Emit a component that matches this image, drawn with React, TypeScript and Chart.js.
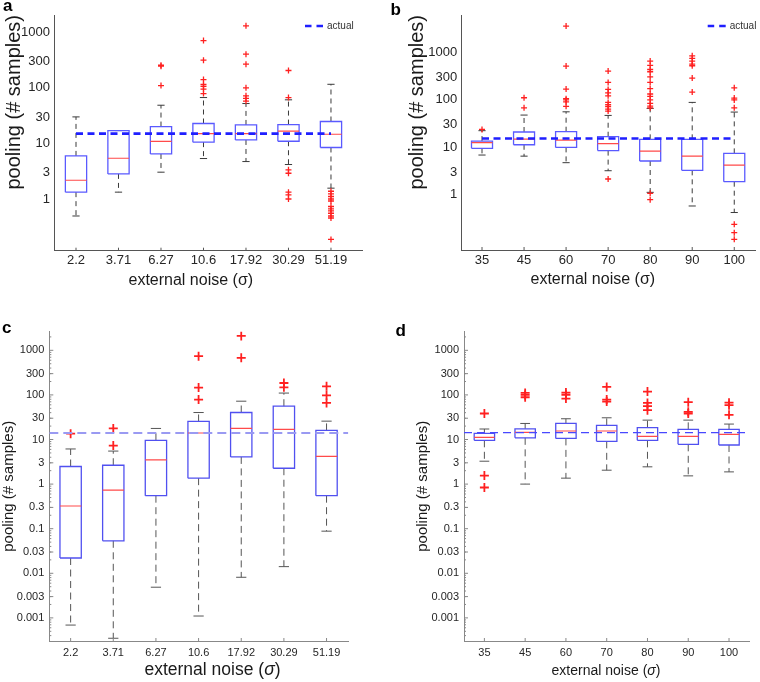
import React, { useEffect, useRef } from "react";
import { Chart, registerables } from "chart.js";

Chart.register(...registerables);

const FONT = "'Liberation Sans', Arial, Helvetica, sans-serif";

// ---------------- Panel a ----------------
const catsA = ["2.2", "3.71", "6.27", "10.6", "17.92", "30.29", "51.19"];
const loA = [0.5, 1.34, 3.06, 5.38, 4.75, 4.2, 1.58];
const q1A = [1.34, 2.85, 6.5, 10.6, 11.6, 11.0, 8.5];
const medA = [2.19, 5.45, 10.9, 15.1, 15.1, 16.7, 14.7];
const q3A = [6.0, 17.1, 20.2, 22.9, 21.6, 21.9, 24.9];
const hiA = [30.1, 17.1, 48.8, 67, 52.3, 61, 116];
const outA = [
  [],
  [],
  [255, 245, 110],
  [708, 314, 141, 115, 106, 95, 79],
  [1300, 403, 266, 100, 72, 65, 58],
  [205, 67, 3.37, 2.93, 1.34, 1.2, 1.01],
  [1.39, 1.25, 1.12, 1.01, 0.93, 0.74, 0.67, 0.62, 0.56, 0.5, 0.46, 0.19],
];
const actualA = 15.1;

// ---------------- Panel b ----------------
const catsB = ["35", "45", "60", "70", "80", "90", "100"];
const loB = [6.86, 6.5, 4.73, 3.2, 1.12, 0.577, 0.42];
const q1B = [9.5, 11.3, 9.95, 8.5, 5.13, 3.26, 1.88];
const medB = [12.5, 14.9, 14.2, 11.9, 8.33, 6.5, 4.22];
const q3B = [13.5, 21, 21.3, 16.7, 14.7, 14.7, 7.44];
const hiB = [22.4, 47.8, 56, 47, 66, 88.5, 55.3];
const outB = [
  [23.8],
  [111, 68],
  [3600, 516, 169, 106, 100, 91, 73],
  [405, 233, 166, 141, 122, 88.5, 79, 72, 64, 58, 2.14],
  [658, 533, 438, 392, 307, 233, 172, 133, 118, 100, 84, 74, 68, 1.07, 0.785],
  [852, 748, 658, 569, 525, 288, 146],
  [180, 109, 100, 68, 0.237, 0.158, 0.114],
];
const actualB = 15.3;

// ---------------- Panel c ----------------
const catsC = ["2.2", "3.71", "6.27", "10.6", "17.92", "30.29", "51.19"];
const loC = [0.00069, 0.000349, 0.00487, 0.0011, 0.00814, 0.0141, 0.088];
const q1C = [0.022, 0.0535, 0.55, 1.36, 4.07, 2.27, 0.55];
const medC = [0.323, 0.735, 3.49, 14, 17.7, 16.9, 4.2];
const q3C = [2.48, 2.65, 9.58, 25.4, 40.3, 55.8, 16];
const hiC = [6.14, 5.5, 17.7, 40.3, 72.3, 110, 25.8];
const outC = [
  [13.5],
  [17.7, 7.3],
  [],
  [741, 146, 78.7],
  [2106, 680],
  [185, 148],
  [156, 98, 66],
];
const actualC = 14;

// ---------------- Panel d ----------------
const catsD = ["35", "45", "60", "70", "80", "90", "100"];
const loD = [3.26, 1, 1.36, 2.05, 2.44, 1.53, 1.88];
const q1D = [9.6, 10.9, 10.6, 9.1, 9.6, 7.8, 7.54];
const medD = [11.2, 14.4, 15.5, 15.5, 11.8, 11.8, 13];
const q3D = [13.7, 17.4, 22.9, 20.7, 18.4, 16.9, 16.9];
const hiD = [17.2, 22.9, 29.2, 30.7, 27.2, 27.2, 22.2];
const outD = [
  [38.3, 1.55, 0.84],
  [111, 100, 88.7],
  [113, 101, 82.8],
  [151, 78.7, 71],
  [119, 66.3, 55.9, 45.5],
  [68.6, 41.8, 38.3],
  [67, 58.8, 35.8],
];
const actualD = 14.2;

// ---------------- Axis ticks ----------------
const ticksAB = [1, 3, 10, 30, 100, 300, 1000];
const ticksCD = [0.001, 0.003, 0.01, 0.03, 0.1, 0.3, 1, 3, 10, 30, 100, 300, 1000];
const minorCD: number[] = [];
for (let e = -4; e <= 3; e++) for (let m = 2; m <= 9; m++) minorCD.push(m * Math.pow(10, e));

const legendLabel = "actual";

interface PanelData {
  cats: string[];
  lo: number[];
  q1: number[];
  med: number[];
  q3: number[];
  hi: number[];
  out: number[][];
  actual: number;
}

interface PanelStyle {
  left: number; top: number; w: number; h: number;
  yW: number; padTop: number; padRight: number; xH: number;
  xMin: number; xMax: number; yMin: number; yMax: number;
  yTicks: number[];
  tickFont: number; xTickPad: number; yTickPad: number;
  yTitleSize: number; yTitlePad: number; yTitleAlign: "center" | "end";
  boxColor: string; boxWidth: number; medColor: string;
  whiskColor: string; whiskDash: number[]; capHalf: number; capColor: string;
  outR: number; outW: number; outColor: string;
  actualColor: string; actualWidth: number; actualDash: number[]; actualFrom: number; actualTo: number;
  legend: boolean; legendRight: number; legendDy: number;
  axisColor: string; xTickLen: number; yTickLen: number; minor: number[]; minorLen: number;
}

const dataA: PanelData = { cats: catsA, lo: loA, q1: q1A, med: medA, q3: q3A, hi: hiA, out: outA, actual: actualA };
const dataB: PanelData = { cats: catsB, lo: loB, q1: q1B, med: medB, q3: q3B, hi: hiB, out: outB, actual: actualB };
const dataC: PanelData = { cats: catsC, lo: loC, q1: q1C, med: medC, q3: q3C, hi: hiC, out: outC, actual: actualC };
const dataD: PanelData = { cats: catsD, lo: loD, q1: q1D, med: medD, q3: q3D, hi: hiD, out: outD, actual: actualD };

const baseAB = {
  w: 380, h: 300, padTop: 15, yTicks: ticksAB, tickFont: 13, yTickPad: 4.5,
  yTitleSize: 20, yTitleAlign: "end" as const,
  boxColor: "#5a5aff", boxWidth: 1.3, medColor: "#ff4a4a",
  whiskColor: "#3a3a3a", whiskDash: [5, 4], capHalf: 0.085, capColor: "#3a3a3a",
  outR: 3, outW: 1.3, outColor: "#ff2020",
  actualColor: "#1f1fff", actualWidth: 2.6, actualDash: [7, 4.5],
  legend: true, legendDy: 11, axisColor: "#555", xTickLen: 3, yTickLen: 0, minor: [] as number[], minorLen: 0,
};

const styleA: PanelStyle = {
  ...baseAB, left: 0, top: 0, yW: 54.5, padRight: 18, xH: 49.3,
  xMin: 0.494, xMax: 7.73, yMin: 0.119, yMax: 2036, xTickPad: 1.5, yTitlePad: 2.5,
  actualFrom: 1, actualTo: 7, legendRight: 57,
};
const styleB: PanelStyle = {
  ...baseAB, left: 380, top: 0, yW: 81.7, padRight: 0, xH: 50,
  xMin: 0.517, xMax: 7.51, yMin: 0.068, yMax: 6180, xTickPad: 2.2, yTitlePad: 25.8,
  actualFrom: 1, actualTo: 7, legendRight: 48,
};

const baseCD = {
  w: 380, h: 362, padTop: 10, xH: 41, yMin: 0.000303, yMax: 2630, yTicks: ticksCD,
  tickFont: 11, xTickPad: 5.7, yTickPad: 5, yTitleSize: 15, yTitleAlign: "center" as const,
  boxColor: "#5050f0", boxWidth: 1.3, medColor: "#ff4a4a",
  whiskColor: "#555", whiskDash: [7, 4.5], capHalf: 0.12, capColor: "#555",
  outR: 4.5, outW: 1.8, outColor: "#ff2020",
  legend: false, legendRight: 0, legendDy: 0, axisColor: "#888", xTickLen: 3, yTickLen: 4, minor: minorCD, minorLen: 2,
};

const styleC: PanelStyle = {
  ...baseCD, left: 0, top: 320, yW: 49.3, padRight: 31.7, xMin: 0.5, xMax: 7.51, yTitlePad: 0.2,
  actualColor: "#9a9af2", actualWidth: 2, actualDash: [9, 5], actualFrom: 0.5, actualTo: 7.51,
};
const styleD: PanelStyle = {
  ...baseCD, left: 380, top: 320, yW: 84, padRight: 11, xMin: 0.5, xMax: 7.49, yTitlePad: 34.3,
  actualColor: "#4848ff", actualWidth: 1.3, actualDash: [8, 5], actualFrom: 0.5, actualTo: 7.49,
};

function makeTickPlugin(st: PanelStyle) {
  return {
    id: "inTicks",
    afterDraw(chart: any) {
      const { ctx, chartArea: a, scales } = chart;
      const xs = scales.x;
      const ys = scales.y;
      ctx.save();
      ctx.strokeStyle = st.axisColor;
      ctx.lineWidth = 1;
      ctx.setLineDash([]);
      ctx.beginPath();
      if (st.xTickLen) {
        xs.ticks.forEach((t: any) => {
          const px = xs.getPixelForValue(t.value);
          ctx.moveTo(px, a.bottom);
          ctx.lineTo(px, a.bottom - st.xTickLen);
        });
      }
      if (st.yTickLen) {
        ys.ticks.forEach((t: any) => {
          const py = ys.getPixelForValue(t.value);
          ctx.moveTo(a.left, py);
          ctx.lineTo(a.left + st.yTickLen, py);
        });
      }
      st.minor.forEach((v) => {
        if (v < ys.min || v > ys.max) return;
        const py = ys.getPixelForValue(v);
        ctx.moveTo(a.left, py);
        ctx.lineTo(a.left + st.minorLen, py);
      });
      ctx.stroke();

      // legend entry ("actual") in the upper-right corner of the plot area
      if (st.legend) {
        const x0 = a.right - st.legendRight;
        const y0 = a.top + st.legendDy;
        ctx.beginPath();
        ctx.strokeStyle = st.actualColor;
        ctx.lineWidth = 2.4;
        ctx.setLineDash([6.5, 5]);
        ctx.moveTo(x0, y0);
        ctx.lineTo(x0 + 18, y0);
        ctx.stroke();
        ctx.setLineDash([]);
        ctx.fillStyle = "#333";
        ctx.font = `10px ${FONT}`;
        ctx.textAlign = "left";
        ctx.textBaseline = "middle";
        ctx.fillText(legendLabel, x0 + 22, y0);
      }
      ctx.restore();
    },
  };
}

function makeConfig(d: PanelData, st: PanelStyle): any {
  const H = 0.25;
  const c = st.capHalf;
  const boxPts: any[] = [];
  const medPts: any[] = [];
  const whiskPts: any[] = [];
  const capPts: any[] = [];
  const outPts: any[] = [];
  d.cats.forEach((_, i) => {
    const x = i + 1;
    boxPts.push(
      { x: x - H, y: d.q1[i] }, { x: x + H, y: d.q1[i] }, { x: x + H, y: d.q3[i] },
      { x: x - H, y: d.q3[i] }, { x: x - H, y: d.q1[i] }, { x, y: null }
    );
    medPts.push({ x: x - H, y: d.med[i] }, { x: x + H, y: d.med[i] }, { x, y: null });
    whiskPts.push(
      { x, y: d.q3[i] }, { x, y: d.hi[i] }, { x, y: null },
      { x, y: d.q1[i] }, { x, y: d.lo[i] }, { x, y: null }
    );
    capPts.push(
      { x: x - c, y: d.hi[i] }, { x: x + c, y: d.hi[i] }, { x, y: null },
      { x: x - c, y: d.lo[i] }, { x: x + c, y: d.lo[i] }, { x, y: null }
    );
    d.out[i].forEach((v) => outPts.push({ x, y: v }));
  });

  const lineDs = (label: string, data: any[], color: string, width: number, dash: number[]) => ({
    type: "line",
    label,
    data,
    borderColor: color,
    backgroundColor: color,
    borderWidth: width,
    borderDash: dash,
    pointRadius: 0,
    pointHoverRadius: 0,
    fill: false,
    tension: 0,
    spanGaps: false,
  });

  const datasets = [
    lineDs(legendLabel, [{ x: st.actualFrom, y: d.actual }, { x: st.actualTo, y: d.actual }], st.actualColor, st.actualWidth, st.actualDash),
    {
      type: "line",
      label: "outliers",
      data: outPts,
      showLine: false,
      pointStyle: "cross",
      pointRadius: st.outR,
      pointHoverRadius: st.outR,
      pointBorderColor: st.outColor,
      pointBackgroundColor: st.outColor,
      pointBorderWidth: st.outW,
    },
    lineDs("median", medPts, st.medColor, 1.2, []),
    lineDs("box", boxPts, st.boxColor, st.boxWidth, []),
    lineDs("caps", capPts, st.capColor, 1, []),
    lineDs("whiskers", whiskPts, st.whiskColor, 1, st.whiskDash),
  ];

  return {
    type: "line",
    data: { datasets },
    plugins: [makeTickPlugin(st)],
    options: {
      responsive: false,
      animation: false,
      devicePixelRatio: 1,
      events: [],
      layout: { padding: { top: st.padTop, right: st.padRight, left: 0, bottom: 0 } },
      plugins: {
        tooltip: { enabled: false },
        legend: { display: false },
      },
      scales: {
        x: {
          type: "linear",
          bounds: "data",
          min: st.xMin,
          max: st.xMax,
          afterBuildTicks: (sc: any) => {
            sc.ticks = d.cats.map((_, i) => ({ value: i + 1 }));
          },
          afterFit: (sc: any) => {
            sc.height = st.xH;
          },
          ticks: {
            autoSkip: false,
            maxRotation: 0,
            padding: st.xTickPad,
            color: "#262626",
            font: { family: FONT, size: st.tickFont },
            callback: (_v: any, i: number) => d.cats[i],
          },
          grid: { display: false, drawTicks: false },
          border: { display: true, color: st.axisColor, width: 1 },
        },
        y: {
          type: "logarithmic",
          bounds: "data",
          min: st.yMin,
          max: st.yMax,
          afterBuildTicks: (sc: any) => {
            sc.ticks = st.yTicks.map((v) => ({ value: v }));
          },
          afterFit: (sc: any) => {
            sc.width = st.yW;
          },
          ticks: {
            autoSkip: false,
            padding: st.yTickPad,
            color: "#262626",
            font: { family: FONT, size: st.tickFont },
            callback: (v: any) => String(v),
          },
          grid: { display: false, drawTicks: false },
          border: { display: true, color: st.axisColor, width: 1 },
          title: {
            display: true,
            text: "pooling (# samples)",
            color: "#1a1a1a",
            align: st.yTitleAlign,
            font: { family: FONT, size: st.yTitleSize },
            padding: { top: st.yTitlePad, bottom: 0 },
          },
        },
      },
    },
  };
}

function BoxPanel({ data, st }: { data: PanelData; st: PanelStyle }) {
  const ref = useRef<HTMLCanvasElement | null>(null);
  useEffect(() => {
    if (!ref.current) return;
    const chart = new Chart(ref.current, makeConfig(data, st));
    return () => chart.destroy();
  }, [data, st]);
  return (
    <canvas
      ref={ref}
      width={st.w}
      height={st.h}
      style={{ position: "absolute", left: st.left, top: st.top, width: st.w, height: st.h }}
    />
  );
}

function Letter({ ch, left, top }: { ch: string; left: number; top: number }) {
  return (
    <div style={{ position: "absolute", left, top, fontSize: 17, lineHeight: "17px", fontWeight: "bold", fontFamily: FONT, color: "#000" }}>
      {ch}
    </div>
  );
}

function XTitle({ cx, cy, size, italic }: { cx: number; cy: number; size: number; italic: boolean }) {
  return (
    <div
      style={{
        position: "absolute",
        left: cx - 120,
        width: 240,
        top: cy - 0.59 * size,
        textAlign: "center",
        fontSize: size,
        lineHeight: `${size}px`,
        fontFamily: FONT,
        color: "#1a1a1a",
        whiteSpace: "nowrap",
      }}
    >
      external noise ({italic ? <i>σ</i> : "σ"})
    </div>
  );
}

export default function App() {
  return (
    <div style={{ position: "fixed", left: 0, top: 0, width: 760, height: 682, background: "#fff", overflow: "hidden" }}>
      <BoxPanel data={dataA} st={styleA} />
      <BoxPanel data={dataB} st={styleB} />
      <BoxPanel data={dataC} st={styleC} />
      <BoxPanel data={dataD} st={styleD} />
      <Letter ch="a" left={3} top={-3.5} />
      <Letter ch="b" left={390.5} top={0.6} />
      <Letter ch="c" left={2} top={319} />
      <Letter ch="d" left={395.5} top={322.3} />
      <XTitle cx={190.8} cy={281.7} size={16} italic={false} />
      <XTitle cx={592.8} cy={280} size={16} italic={false} />
      <XTitle cx={212.5} cy={671.5} size={17.5} italic={true} />
      <XTitle cx={606} cy={671.5} size={14} italic={true} />
    </div>
  );
}
